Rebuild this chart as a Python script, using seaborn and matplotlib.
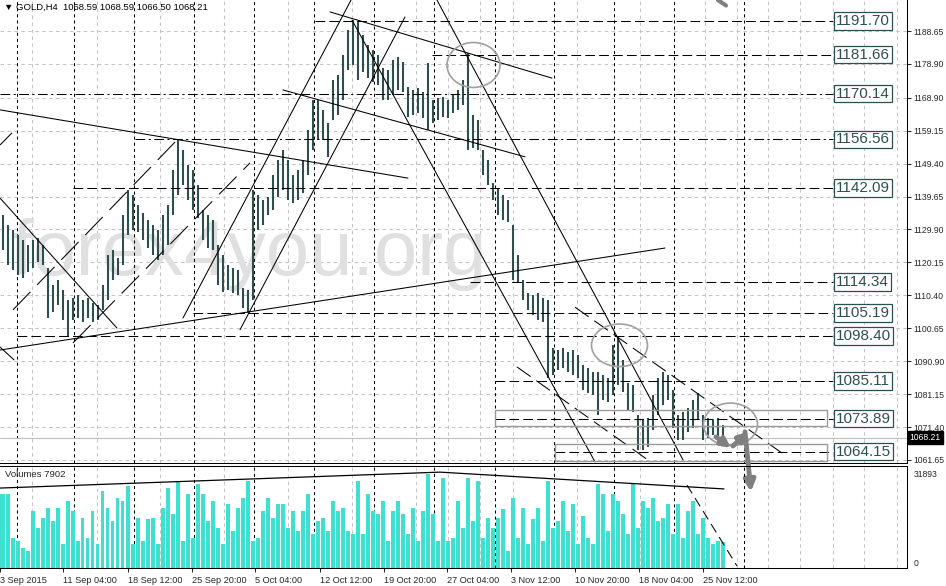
import numpy as np
import pandas as pd
import seaborn as sns
import matplotlib.pyplot as plt
import matplotlib.transforms as mtransforms
from matplotlib.patches import Ellipse, Rectangle

sns.set_style("white")
plt.rcParams['font.family'] = ['Liberation Sans', 'DejaVu Sans']
plt.rcParams['lines.scale_dashes'] = False

# GOLD H4, one entry per ~2.5 bars
highs = [1134.2, 1131.2, 1129.8, 1128.3, 1126.8, 1125.3, 1126.8, 1127.4, 1125.3, 1118.5,
         1113.5, 1115.0, 1112.0, 1109.0, 1109.6, 1110.5, 1109.0, 1109.6, 1108.1, 1107.6,
         1113.5, 1122.4, 1123.8, 1121.5, 1134.2, 1141.6, 1140.1, 1137.2, 1134.8, 1132.7,
         1131.2, 1129.8, 1134.2, 1137.2, 1147.5, 1156.4, 1153.4, 1149.0, 1147.5, 1143.1,
         1135.7, 1134.2, 1132.7, 1125.3, 1122.4, 1119.4, 1118.5, 1117.9, 1112.6, 1112.0,
         1141.6, 1140.1, 1138.6, 1139.5, 1146.0, 1150.5, 1153.4, 1150.5, 1146.0, 1147.5,
         1150.5, 1159.4, 1168.2, 1168.2, 1165.3, 1161.4, 1174.2, 1175.6, 1181.6, 1189.0,
         1191.9, 1191.3, 1187.5, 1184.5, 1183.0, 1181.6, 1177.7, 1177.1, 1180.1, 1181.0,
         1179.5, 1172.1, 1171.2, 1171.8, 1170.6, 1179.2, 1168.2, 1168.8, 1169.1, 1168.2,
         1169.7, 1171.2, 1174.2, 1182.1, 1163.8, 1162.3, 1153.4, 1150.5, 1143.7, 1142.2,
         1140.1, 1138.6, 1131.2, 1122.4, 1115.0, 1111.1, 1110.5, 1111.1, 1109.6, 1109.0,
         1094.8, 1094.2, 1094.8, 1093.6, 1094.2, 1092.8, 1089.8, 1088.9, 1087.7, 1087.7,
         1086.8, 1085.9, 1095.7, 1098.1, 1091.3, 1084.5, 1083.9, 1075.0, 1073.5, 1074.1,
         1080.9, 1085.9, 1087.7, 1086.8, 1082.4, 1075.0, 1075.9, 1077.1, 1079.4, 1081.5,
         1075.0, 1074.1, 1073.5, 1074.1, 1072.0]
lows = [1123.8, 1119.4, 1117.9, 1116.4, 1115.5, 1117.3, 1118.5, 1120.3, 1119.4, 1103.7,
        1105.5, 1107.6, 1103.1, 1098.1, 1103.1, 1103.7, 1102.5, 1103.7, 1102.5, 1103.1,
        1106.1, 1109.0, 1115.0, 1116.4, 1119.4, 1128.3, 1129.8, 1129.2, 1126.8, 1124.4,
        1122.4, 1120.9, 1122.4, 1125.3, 1134.2, 1140.1, 1143.1, 1138.6, 1135.7, 1133.3,
        1126.8, 1124.4, 1123.8, 1113.5, 1111.4, 1112.0, 1111.1, 1110.5, 1106.7, 1105.2,
        1109.0, 1129.8, 1131.2, 1134.2, 1135.7, 1139.5, 1141.6, 1138.6, 1137.7, 1138.6,
        1140.7, 1146.0, 1153.4, 1156.4, 1156.4, 1151.4, 1162.3, 1163.8, 1168.2, 1177.1,
        1178.6, 1174.2, 1176.5, 1174.7, 1173.6, 1172.7, 1168.2, 1168.2, 1169.7, 1171.2,
        1170.6, 1163.2, 1163.8, 1164.4, 1162.9, 1159.4, 1161.4, 1162.3, 1163.2, 1162.9,
        1164.4, 1165.3, 1166.8, 1153.4, 1154.0, 1153.4, 1146.0, 1143.1, 1138.6, 1134.2,
        1132.7, 1132.1, 1115.0, 1114.4, 1109.0, 1106.1, 1104.6, 1103.1, 1102.5, 1085.9,
        1086.8, 1088.3, 1088.9, 1087.7, 1086.8, 1085.9, 1082.4, 1081.5, 1080.9, 1075.0,
        1079.4, 1078.8, 1080.9, 1083.9, 1081.8, 1076.5, 1075.9, 1064.6, 1064.6, 1065.5,
        1070.6, 1075.0, 1078.0, 1079.4, 1071.1, 1067.6, 1067.6, 1070.0, 1071.1, 1073.5,
        1067.6, 1068.2, 1069.1, 1068.8, 1067.6]
volumes = [25100, 25100, 10200, 9200, 6800, 5800, 19300, 13600, 17000, 20300,
           15900, 20300, 8100, 22700, 19300, 9200, 17000, 10200, 19300, 8100,
           26100, 20300, 15900, 23700, 22700, 27800, 8100, 17000, 9200, 16600,
           17000, 8100, 20300, 27100, 18300, 29500, 9200, 25100, 10200, 28500,
           25100, 15900, 22700, 13600, 8100, 21700, 12500, 20300, 23700, 29500,
           9200, 10200, 19300, 23700, 17000, 21700, 21700, 13600, 19300, 12500,
           19300, 25100, 11500, 15900, 17000, 12500, 22700, 19300, 20300, 12500,
           11500, 29500, 11500, 25100, 19300, 18300, 22700, 9200, 19300, 22700,
           18300, 11500, 20300, 9200, 19300, 31893, 18300, 9200, 30500, 9200,
           10200, 22700, 13600, 30500, 15900, 29500,
           10200, 17000, 13600, 17000, 20000, 5800, 23700, 10200, 20300, 8100,
           16600, 20300, 9200, 29500, 13600, 15900, 22700, 12500, 21700, 8100,
           17600, 10200, 8100, 28500, 25100, 12500, 25100, 22700, 18300, 11500,
           28500, 13600, 22700, 20300, 23700, 15900, 17000, 21700, 11500, 21700,
           10200, 19300, 22700, 11500, 17000, 10200, 8100, 9200, 8800]

price_ticks = [1188.65, 1178.90, 1168.90, 1159.15, 1149.40, 1139.65, 1129.90,
               1120.15, 1110.40, 1100.65, 1090.90, 1081.15, 1071.40, 1061.65]
time_labels = ["3 Sep 2015", "11 Sep 04:00", "18 Sep 12:00", "25 Sep 20:00", "5 Oct 04:00",
               "12 Oct 12:00", "19 Oct 20:00", "27 Oct 04:00", "3 Nov 12:00", "10 Nov 20:00",
               "18 Nov 04:00", "25 Nov 12:00"]
time_pos = [0.0, 12.6, 25.6, 38.4, 51.0, 64.0, 76.8, 89.4, 102.2, 115.0, 127.8, 140.6]

levels = [1191.70, 1181.66, 1170.14, 1156.56, 1142.09, 1114.34, 1105.19, 1098.40, 1085.11, 1073.89, 1064.15]
level_start = [63, 86.4, 0, 27, 14.6, 94, 38.6, 3.4, 99, 99, 111]
level_dashdot = [1170.14, 1156.56]
last_price = 1068.21

separators = [3.3, 14.8, 26.8, 38.8, 50.8, 62.8, 74.8, 86.8, 98.9, 110.8, 122.8, 134.8, 148.8]
grid_x = [6.4, 19.4, 32, 44.8, 57.6, 70.4, 83.2, 89.6, 96, 102.6, 115.4, 128, 141,
          147.4, 153.6, 160, 166.6, 172.8, 179.4]

# trend lines drawn on the chart: ((x0, p0), (x1, p1))
solid_lines = [((0, 1165.3), (81.6, 1145.1)),
               ((0, 1094.2), (133, 1124.4)),
               ((56.6, 1171.2), (105, 1151.4)),
               ((66, 1194.3), (110.4, 1174.7)),
               ((36.6, 1103.7), (70.2, 1197.8)),
               ((48, 1100.2), (81, 1192.8)),
               ((70.4, 1191.9), (119, 1061.1)),
               ((87.4, 1197.8), (136.6, 1061.7)),
               ((0, 1139.2), (23.4, 1100.7)),
               ((0, 1095.1), (2.8, 1091.3))]
dashed_channel = [((2.6, 1106.1), (36, 1157.3)),
                  ((14.6, 1096.3), (50, 1149.6)),
                  ((0, 1154.9), (2.4, 1158.5))]
dashed_down = [((115, 1106.9), (156.4, 1063.7)),
               ((103.4, 1089.2), (130.4, 1060.8))]
circles = [(94.7, 1178.6, 10.6, 13.3), (123.9, 1095.6, 11.2, 12.6), (146.1, 1072.2, 10.8, 12.6)]
zones = [(99, 1071.7, 66.4, 4.8), (111, 1061.4, 54.4, 5.0)]
vol_line = ([0, 88, 144.8], [27100, 32500, 26800])
vol_dash = ([137.4, 147.4], [28100, 700])

bar_col = '#2F4F4F'
n = len(highs)
xs = np.arange(n) + 0.5

fig = plt.figure(figsize=(9.46, 5.86), dpi=100)
ax = fig.add_axes([0, 123 / 586, 907 / 946, 463 / 586])
axv = fig.add_axes([0, 18 / 586, 907 / 946, 102 / 586])
axv.set_facecolor('none')

for a in (ax, axv):
    a.set_xlim(0, 181.4)
    for gx in grid_x:
        a.axvline(gx, color='#c4c4c4', lw=0.75, ls=(0, (2.5, 2.5)), zorder=0.5)
    for sx in separators:
        a.axvline(sx, color='black', lw=0.75, ls=(0, (2.2, 2.2)), zorder=0.8)

ax.set_ylim(1060.76, 1197.83)
for p in price_ticks:
    ax.axhline(p, color='#c4c4c4', lw=0.75, ls=(0, (2.5, 2.5)), zorder=0.5)

ax.text(2.4, 1116.4, 'forex4you.org', fontsize=56, color='#e0e0e0', va='baseline', zorder=0.6)

ax.axhline(last_price, color='#c0c0c0', lw=0.8, zorder=1)
ax.vlines(xs, lows, highs, color=bar_col, lw=1.5, zorder=2)

for (x0, p0), (x1, p1) in solid_lines:
    ax.plot([x0, x1], [p0, p1], color='black', lw=0.75, zorder=3)
for (x0, p0), (x1, p1) in dashed_channel:
    ax.plot([x0, x1], [p0, p1], color='black', lw=0.75, ls=(0, (18, 7)), zorder=3)
for (x0, p0), (x1, p1) in dashed_down:
    ax.plot([x0, x1], [p0, p1], color='black', lw=0.75, ls=(0, (12, 5)), zorder=3)

for lv, xs0 in zip(levels, level_start):
    style = (0, (7, 2.5, 1.5, 2.5)) if lv in level_dashdot else (0, (7, 3))
    ax.plot([xs0, 166.6], [lv, lv], color='black', lw=0.75, ls=style, zorder=3)
    ax.text(167.2, lv, f"{lv:.2f}", fontsize=11, color=bar_col, va='center', ha='left', zorder=5,
            bbox=dict(boxstyle='square,pad=0.12', fc='white', ec=bar_col, lw=0.9))

for x0, y0, w, h in zones:
    ax.add_patch(Rectangle((x0, y0), w, h, fill=False, ec='#9a9a9a', lw=1.0, zorder=3))
for cx, cy, w, h in circles:
    ax.add_patch(Ellipse((cx, cy), w, h, fill=False, ec='#a0a0a0', lw=1.2, zorder=4))

arrow_kw = dict(arrowstyle='-|>', color='#808080', lw=3.5, mutation_scale=13, shrinkA=0, shrinkB=0)
ax.annotate('', xy=(146.2, 1065.2), xytext=(143.2, 1068.5), arrowprops=arrow_kw, annotation_clip=False, zorder=6)
ax.annotate('', xy=(149.6, 1070.0), xytext=(146.6, 1065.8), arrowprops=arrow_kw, annotation_clip=False, zorder=6)
ax.annotate('', xy=(150.2, 1052.2), xytext=(149.0, 1070.0), arrowprops=dict(arrow_kw, mutation_scale=16),
            annotation_clip=False, zorder=6)
ax.plot([143.6, 145.2], [1197.8, 1196.2], color='#808080', lw=3, zorder=6)

ax.yaxis.tick_right()
ax.set_yticks(price_ticks)
ax.set_yticklabels([f"{p:.2f}" for p in price_ticks])
ax.tick_params(axis='y', direction='out', length=3, width=0.75, pad=1.5, labelsize=6.2, right=True, left=False)
ax.set_xticks([])
for s in ['top', 'left']:
    ax.spines[s].set_visible(False)
for s in ['right', 'bottom']:
    ax.spines[s].set_color('black')
    ax.spines[s].set_linewidth(0.75)

tr = mtransforms.blended_transform_factory(ax.transAxes, ax.transData)
ax.text(1.003, last_price, f"{last_price:.2f}", transform=tr, fontsize=6.2, color='white', va='center',
        ha='left', zorder=7, bbox=dict(boxstyle='square,pad=0.25', fc='black', ec='black'))
ax.text(0.004, 0.985, "\u25bc GOLD,H4  1068.59 1068.59 1066.50 1068.21", transform=ax.transAxes,
        fontsize=6.8, va='center', ha='left', color='black')

# volume panel
vol_df = pd.DataFrame({'x': xs, 'vol': volumes})
sns.barplot(data=vol_df, x='x', y='vol', native_scale=True, width=0.8, color='#40E0D0', saturation=1,
            errorbar=None, linewidth=0, edgecolor='none', ax=axv, zorder=2)
axv.plot(vol_line[0], vol_line[1], color='black', lw=0.9, zorder=3)
axv.plot(vol_dash[0], vol_dash[1], color='black', lw=0.75, ls=(0, (7, 4)), zorder=3)
axv.set_xlim(0, 181.4)
axv.set_ylim(0, 34578)
axv.set_xlabel('')
axv.set_ylabel('')
axv.yaxis.tick_right()
axv.set_yticks([0, 31893])
axv.set_yticklabels(['0', '31893'])
axv.get_yticklabels()[0].set_va('bottom')
axv.tick_params(axis='y', length=0, pad=5, labelsize=6.2, right=True, left=False)
axv.set_xticks(time_pos)
axv.set_xticklabels(time_labels)
for lbl in axv.get_xticklabels():
    lbl.set_ha('left')
axv.tick_params(axis='x', direction='out', length=3, width=0.75, pad=3, labelsize=6.6, bottom=True)
axv.spines['left'].set_visible(False)
for s in ['right', 'bottom', 'top']:
    axv.spines[s].set_color('black')
    axv.spines[s].set_linewidth(0.75)
axv.text(0.0055, 0.92, "Volumes 7902", transform=axv.transAxes, fontsize=6.8, va='center', ha='left')

fig.savefig('out.png', dpi=100)
plt.close(fig)
